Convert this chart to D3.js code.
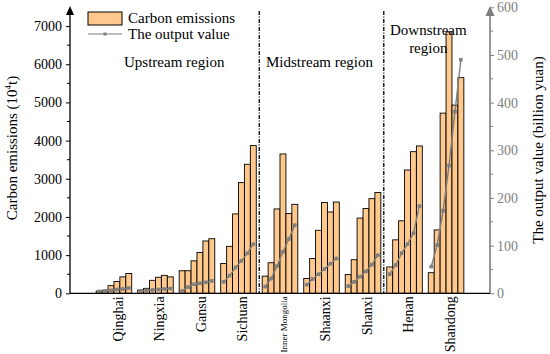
<!DOCTYPE html>
<html>
<head>
<meta charset="utf-8">
<script src="https://cdn.jsdelivr.net/npm/d3@7"></script>
<style>
  body { margin: 0; background: #fff; }
  text { font-family: "Liberation Serif", "DejaVu Serif", serif; }
</style>
</head>
<body>
<script>
// carbon emissions and output value by province, Yellow River basin

var provinces = ['Qinghai', 'Ningxia', 'Gansu', 'Sichuan', 'Inner Mongolia', 'Shaanxi', 'Shanxi', 'Henan', 'Shandong'];
var periods = [1, 2, 3, 4, 5, 6];

// 10^4 t
var emissions = [
  [60, 80, 200, 310, 430, 520],
  [85, 130, 340, 420, 470, 430],
  [590, 590, 850, 1070, 1370, 1430],
  [780, 1230, 2080, 2900, 3380, 3870],
  [450, 800, 2210, 3650, 2090, 2330],
  [390, 910, 1650, 2380, 2130, 2390],
  [490, 880, 1970, 2220, 2480, 2640],
  [690, 1400, 1900, 3230, 3710, 3860],
  [540, 1660, 4720, 6850, 4930, 5650]
];

// billion yuan
var outputValue = [
  [4, 5, 6, 8, 9, 11],
  [5, 6, 7, 8, 9, 10],
  [5, 13, 19, 21, 23, 26],
  [24, 37, 54, 68, 84, 103],
  [14, 31, 57, 87, 114, 143],
  [18, 30, 40, 51, 62, 73],
  [15, 24, 35, 46, 60, 80],
  [40, 59, 84, 103, 126, 183],
  [56, 101, 173, 268, 381, 490]
];

var regions = [
  {name: ['Upstream region'], from: 0, to: 3},
  {name: ['Midstream region'], from: 4, to: 6},
  {name: ['Downstream', 'region'], from: 7, to: 8}
];

var leftTicks = [0, 1000, 2000, 3000, 4000, 5000, 6000, 7000];
var rightTicks = [0, 100, 200, 300, 400, 500, 600];

var width = 550, height = 354;
var x0 = 70, x1 = 490, yBase = 293.3, yTop = 7;
var barFill = '#ffc88c', lineGray = '#7f7f7f';

var svg = d3.select('body').append('svg')
  .attr('width', width)
  .attr('height', height);

var xGroup = d3.scaleBand().domain(provinces).range([x0, x1])
  .paddingInner(1 / 7).paddingOuter(0.63);
var xBar = d3.scaleBand().domain(periods).range([0, xGroup.bandwidth()]);
var yLeft = d3.scaleLinear().domain([0, 7500]).range([yBase, yTop]);
var yRight = d3.scaleLinear().domain([0, 600]).range([yBase, yTop + 0.3]);

// bars
var groups = svg.selectAll('g.prov').data(provinces).enter().append('g')
  .attr('class', 'prov')
  .attr('transform', function(d){ return 'translate(' + xGroup(d) + ',0)'; });

groups.selectAll('rect').data(function(d, i){ return emissions[i]; })
  .enter().append('rect')
  .attr('x', function(d, j){ return xBar(periods[j]); })
  .attr('width', xBar.bandwidth())
  .attr('y', function(d){ return yLeft(d); })
  .attr('height', function(d){ return yBase - yLeft(d); })
  .attr('fill', barFill)
  .attr('stroke', '#000')
  .attr('stroke-width', 0.9);

// output value lines, one per province
var line = d3.line()
  .x(function(d, j){ return xBar(periods[j]) + xBar.bandwidth() / 2; })
  .y(function(d){ return yRight(d); });

groups.append('path')
  .attr('d', function(d, i){ return line(outputValue[i]); })
  .attr('fill', 'none')
  .attr('stroke', lineGray)
  .attr('stroke-width', 1.4);

groups.selectAll('rect.mk').data(function(d, i){ return outputValue[i]; })
  .enter().append('rect')
  .attr('class', 'mk')
  .attr('x', function(d, j){ return xBar(periods[j]) + xBar.bandwidth() / 2 - 1.8; })
  .attr('y', function(d){ return yRight(d) - 1.8; })
  .attr('width', 3.6).attr('height', 3.6)
  .attr('fill', lineGray);

// region dividers
var gap = xGroup.step() * xGroup.paddingInner();
[3, 6].forEach(function(k){
  var xd = xGroup(provinces[k]) + xGroup.bandwidth() + gap / 2;
  svg.append('line')
    .attr('x1', xd).attr('x2', xd)
    .attr('y1', 11).attr('y2', yBase)
    .attr('stroke', '#000')
    .attr('stroke-width', 1.3)
    .attr('stroke-dasharray', '4,1.5,1,1.5');
});

// region labels
regions.forEach(function(r){
  var cx = (xGroup(provinces[r.from]) + xGroup(provinces[r.to]) + xGroup.bandwidth()) / 2;
  var t = svg.append('text')
    .attr('text-anchor', 'middle')
    .attr('font-size', 15);
  if (r.name.length === 1) {
    t.attr('x', cx - 2).attr('y', 67).text(r.name[0]);
  } else {
    t.attr('x', cx + 3).attr('y', 35);
    r.name.forEach(function(s, i){
      t.append('tspan').attr('x', cx + 3).attr('dy', i ? 18 : 0).text(s);
    });
  }
});

// left axis
var leftAxis = d3.axisLeft(yLeft).tickValues(leftTicks).tickSize(4).tickFormat(d3.format('d'));
var gl = svg.append('g').attr('transform', 'translate(' + x0 + ',0)').call(leftAxis);
gl.select('.domain').remove();
gl.selectAll('text').attr('font-size', 14).attr('font-family', '"Liberation Serif", serif').attr('x', -8);
gl.selectAll('.minor').data(d3.range(500, 7500, 1000)).enter().append('line')
  .attr('class', 'minor')
  .attr('x1', -3).attr('x2', 0)
  .attr('y1', function(d){ return yLeft(d); }).attr('y2', function(d){ return yLeft(d); })
  .attr('stroke', '#000');
gl.append('line').attr('x1', 0).attr('x2', 0).attr('y1', yBase).attr('y2', 12)
  .attr('stroke', '#000').attr('stroke-width', 1.3);
gl.append('path').attr('d', 'M-4,15 L0,6 L4,15 Z').attr('fill', '#000');

// right axis
var rightAxis = d3.axisRight(yRight).tickValues(rightTicks).tickSize(4);
var gr = svg.append('g').attr('transform', 'translate(' + x1 + ',0)').call(rightAxis);
gr.select('.domain').remove();
gr.selectAll('.tick line').attr('stroke', lineGray);
gr.selectAll('text').attr('font-size', 14).attr('font-family', '"Liberation Serif", serif')
  .attr('fill', lineGray).attr('x', 7);
gr.selectAll('.minor').data(d3.range(50, 600, 100)).enter().append('line')
  .attr('class', 'minor')
  .attr('x1', 0).attr('x2', 3)
  .attr('y1', function(d){ return yRight(d); }).attr('y2', function(d){ return yRight(d); })
  .attr('stroke', lineGray);
gr.append('line').attr('x1', 0).attr('x2', 0).attr('y1', yBase).attr('y2', 12)
  .attr('stroke', lineGray).attr('stroke-width', 1.6);
gr.append('path').attr('d', 'M-4.5,16 L0,6 L4.5,16 Z').attr('fill', lineGray);

// bottom axis line
svg.append('line').attr('x1', x0).attr('x2', x1).attr('y1', yBase).attr('y2', yBase)
  .attr('stroke', '#000').attr('stroke-width', 1.3);

// category labels
svg.selectAll('text.cat').data(provinces).enter().append('text')
  .attr('class', 'cat')
  .attr('transform', function(d){
    return 'translate(' + (xGroup(d) + xGroup.bandwidth() / 2 + 4) + ',' + (yBase + 3) + ') rotate(-90)';
  })
  .attr('text-anchor', 'end')
  .attr('dy', '0.35em')
  .attr('font-size', function(d){ return d === 'Inner Mongolia' ? 9 : 14; })
  .text(function(d){ return d; });

// axis titles
var tl = svg.append('text')
  .attr('transform', 'translate(17,' + 148 + ') rotate(-90)')
  .attr('text-anchor', 'middle')
  .attr('font-size', 15)
  .text('Carbon emissions (10');
tl.append('tspan').attr('font-size', 9).attr('dy', -6).text('4');
tl.append('tspan').attr('dy', 6).text('t)');

svg.append('text')
  .attr('transform', 'translate(543,' + 150 + ') rotate(-90)')
  .attr('text-anchor', 'middle')
  .attr('font-size', 15)
  .text('The output value (billion yuan)');

// legend
var lg = svg.append('g').attr('transform', 'translate(88,12)');
lg.append('rect').attr('width', 34).attr('height', 13)
  .attr('fill', barFill).attr('stroke', '#000').attr('stroke-width', 1);
lg.append('text').attr('x', 40).attr('y', 11).attr('font-size', 15).text('Carbon emissions');
lg.append('line').attr('x1', 0).attr('x2', 34).attr('y1', 22).attr('y2', 22)
  .attr('stroke', lineGray).attr('stroke-width', 1.2);
lg.append('rect').attr('x', 15.5).attr('y', 20.5).attr('width', 3).attr('height', 3).attr('fill', lineGray);
lg.append('text').attr('x', 40).attr('y', 27).attr('font-size', 15).text('The output value');
</script>
</body>
</html>
